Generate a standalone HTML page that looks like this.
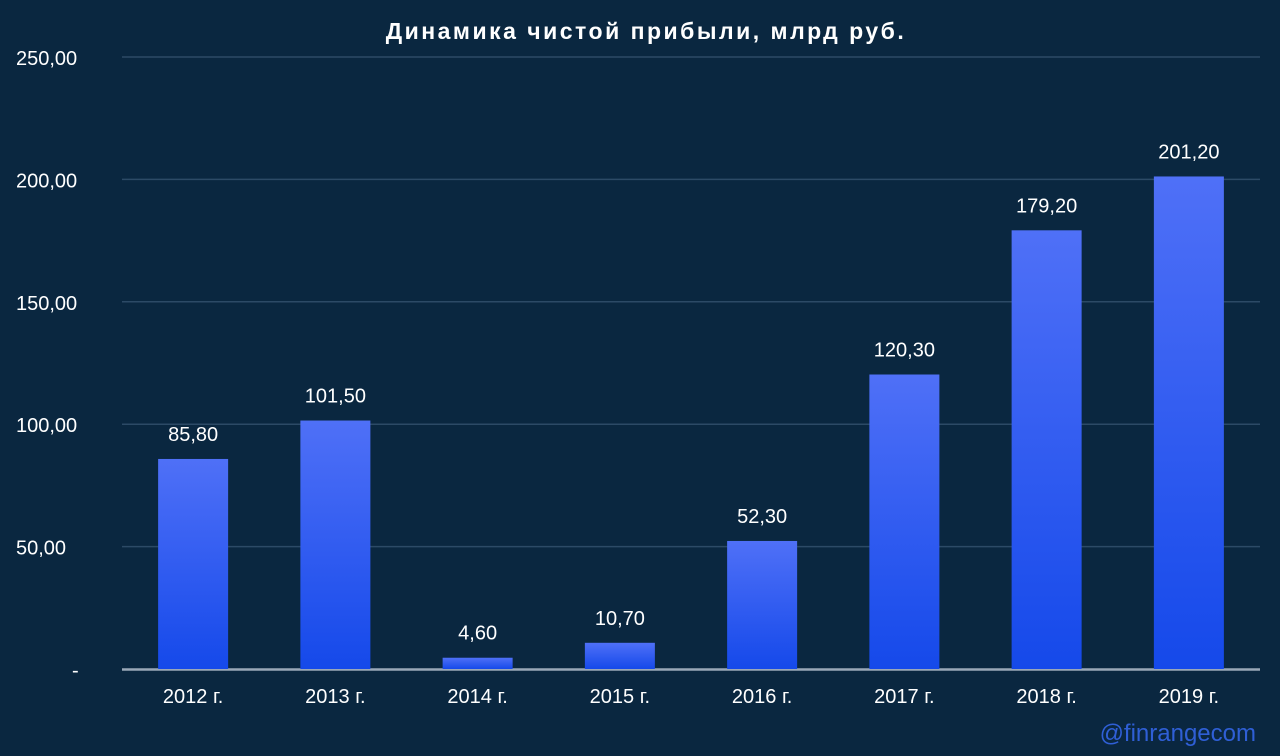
<!DOCTYPE html>
<html><head><meta charset="utf-8">
<style>
html,body{margin:0;padding:0;background:#0a2740;}
svg{display:block;}
text{font-family:"Liberation Sans",sans-serif;fill:#fff;}
</style></head>
<body>
<svg id="chart" width="1280" height="756" viewBox="0 0 1280 756" xmlns="http://www.w3.org/2000/svg">
<defs>
<linearGradient id="bg" x1="0" y1="0" x2="0" y2="1">
<stop offset="0" stop-color="#4f70f7"/><stop offset="1" stop-color="#1549ea"/>
</linearGradient>
</defs>
<rect width="1280" height="756" fill="#0a2740"/>
<text x="646" y="39" text-anchor="middle" font-size="23" font-weight="bold" letter-spacing="2.5">Динамика чистой прибыли, млрд руб.</text>
<g id="grid"></g><g id="bars"></g><g id="labels"></g>
<text x="1256" y="741" text-anchor="end" font-size="24" style="fill:#2f5fd6">@finrangecom</text>
</svg>
<script>
const categories=["2012 г.","2013 г.","2014 г.","2015 г.","2016 г.","2017 г.","2018 г.","2019 г."];
const values=[85.8,101.5,4.6,10.7,52.3,120.3,179.2,201.2];
const valueLabels=["85,80","101,50","4,60","10,70","52,30","120,30","179,20","201,20"];
const ticks=[0,50,100,150,200,250];
const tickLabels=["-","50,00","100,00","150,00","200,00","250,00"];
const NS="http://www.w3.org/2000/svg";
const x0=122,x1=1260,y0=669,yTop=57,yMax=250;
const band=(x1-x0)/categories.length;
const y=v=>y0-(v/yMax)*(y0-yTop);
const xc=i=>x0+band*(i+0.5);
function mk(t,a,p){const e=document.createElementNS(NS,t);for(const k in a)e.setAttribute(k,a[k]);p.appendChild(e);return e;}
const grid=document.getElementById('grid'),bars=document.getElementById('bars'),labels=document.getElementById('labels');
ticks.forEach((t,i)=>{
 if(t>0){const l=mk('line',{x1:x0,x2:x1,y1:y(t),y2:y(t),stroke:'#2c4a66','stroke-width':1.5},grid);
 
 }
 const tx=mk('text',{x:t===0?72:16,y:y(t)+8,'font-size':20,'text-anchor':'start'},grid);
 tx.textContent=tickLabels[i];
 
 
});
values.forEach((v,i)=>{
 const r=mk('rect',{x:xc(i)-35,y:y(v),width:70,height:y0-y(v),fill:'url(#bg)'},bars);
 
 
 const t=mk('text',{x:xc(i),y:y(v)-18,'font-size':20,'text-anchor':'middle'},labels);
 t.textContent=valueLabels[i];
 
 
 const c=mk('text',{x:xc(i),y:703,'font-size':20,'text-anchor':'middle'},labels);
 c.textContent=categories[i];
 
 
});
const ax=mk('line',{x1:x0,x2:x1,y1:y0+0.5,y2:y0+0.5,stroke:'#9aa8b8','stroke-width':2.5},grid);


</script>
</body></html>
